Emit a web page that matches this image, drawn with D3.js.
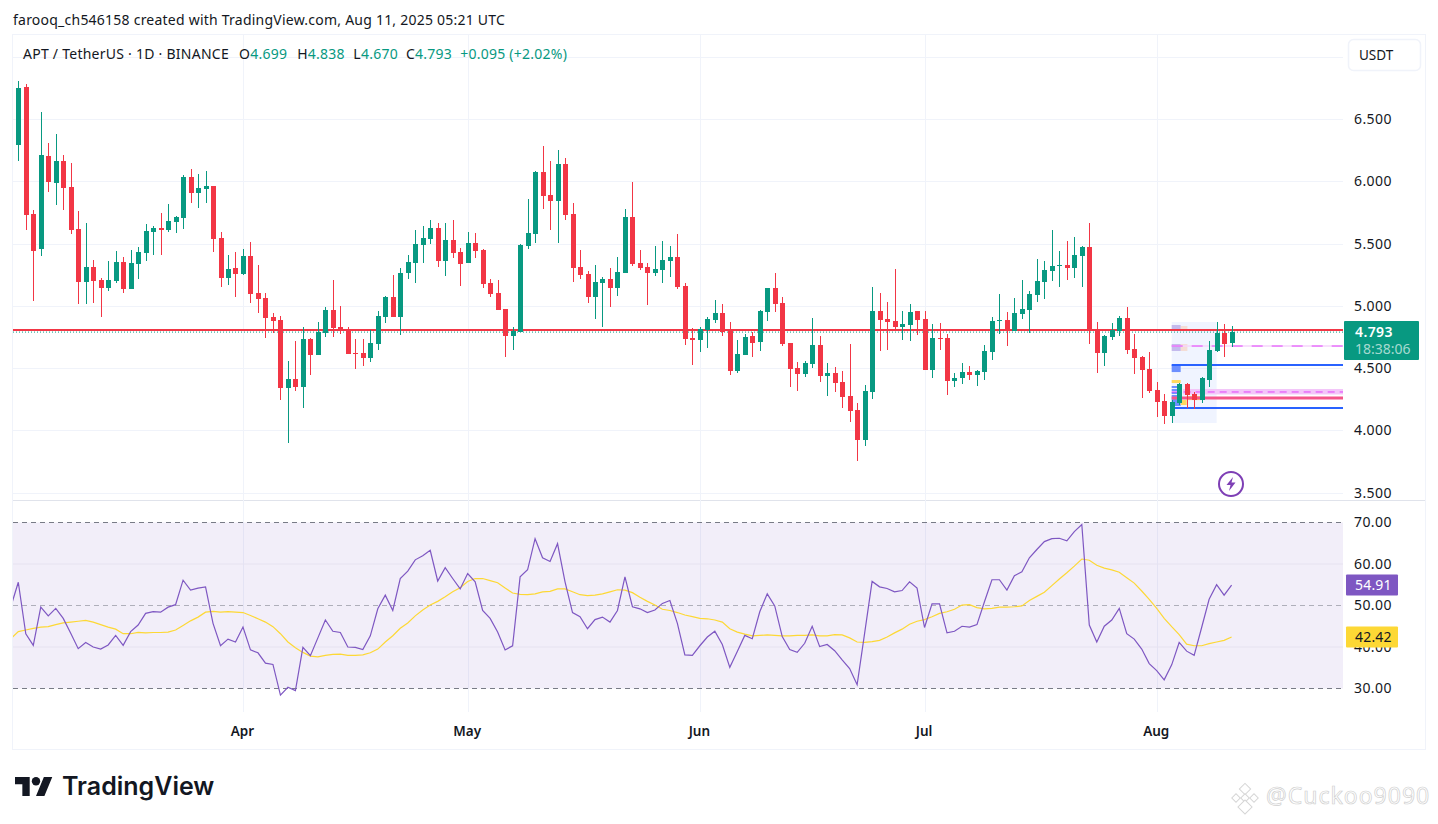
<!DOCTYPE html>
<html>
<head>
<meta charset="utf-8">
<title>APT / TetherUS</title>
<script src="https://cdn.jsdelivr.net/npm/d3@7"></script>
<style>
  html, body { margin: 0; padding: 0; background: #fff; }
  svg { display: block; }
  text { font-family: "Noto Sans", "Open Sans", sans-serif; fill: #131722; }
</style>
</head>
<body>
<div id="chart"></div>
<script>
const opens = [6.291,6.757,5.737,5.455,6.202,5.986,6.162,5.953,5.616,5.190,5.311,5.207,5.142,5.198,5.351,5.134,5.335,5.423,5.592,5.624,5.608,5.672,5.704,6.034,5.905,5.937,5.961,5.544,5.223,5.303,5.255,5.399,5.102,5.062,4.909,4.885,4.339,4.411,4.347,4.733,4.604,4.781,4.966,4.829,4.805,4.621,4.621,4.581,4.693,4.910,5.071,4.910,5.264,5.344,5.488,5.537,5.625,5.360,5.529,5.432,5.344,5.504,5.448,5.183,5.103,4.974,4.758,4.790,5.480,5.577,6.075,5.890,5.842,6.139,5.737,5.312,5.256,5.071,5.183,5.215,5.143,5.264,5.713,5.344,5.312,5.264,5.288,5.360,5.392,5.159,4.742,4.726,4.806,4.886,4.942,4.806,4.477,4.605,4.758,4.709,4.950,5.143,5.023,4.701,4.501,4.452,4.533,4.685,4.436,4.461,4.388,4.276,4.163,3.922,4.308,4.958,4.894,4.878,4.830,4.846,4.958,4.894,4.485,4.742,4.742,4.396,4.420,4.469,4.444,4.469,4.629,4.878,4.886,4.797,4.934,4.966,5.086,5.191,5.279,5.319,5.327,5.303,5.400,5.472,4.805,4.621,4.749,4.797,4.902,4.653,4.588,4.492,4.323,4.235,4.115,4.219,4.372,4.291,4.243,4.404,4.637,4.781,4.699]
const highs = [6.805,6.781,5.769,6.556,6.307,6.379,6.210,6.146,5.761,5.664,5.367,5.223,5.359,5.439,5.391,5.447,5.471,5.656,5.640,5.745,5.817,5.720,6.050,6.098,6.058,6.082,5.961,5.592,5.407,5.431,5.455,5.512,5.327,5.102,4.941,4.917,4.556,4.717,4.829,4.741,4.869,4.990,5.206,4.998,4.829,4.734,4.734,4.806,4.958,5.079,5.247,5.304,5.408,5.609,5.641,5.689,5.665,5.665,5.689,5.464,5.593,5.585,5.456,5.215,5.207,4.974,4.830,5.496,5.858,6.083,6.284,6.163,6.251,6.187,5.826,5.448,5.280,5.328,5.231,5.304,5.392,5.778,5.994,5.448,5.344,5.480,5.521,5.480,5.577,5.183,4.822,4.830,4.910,5.047,5.015,4.870,4.726,4.774,4.790,4.966,5.143,5.264,5.071,4.701,4.549,4.557,4.902,4.758,4.541,4.509,4.477,4.693,4.220,4.364,5.151,5.103,5.031,5.296,4.958,5.015,4.958,4.958,4.854,4.862,4.774,4.461,4.541,4.517,4.485,4.685,4.910,5.095,4.950,5.062,5.207,5.119,5.375,5.359,5.608,5.440,5.520,5.552,5.480,5.665,4.870,4.765,4.861,4.918,4.990,4.773,4.596,4.629,4.388,4.291,4.243,4.377,4.380,4.307,4.428,4.717,4.870,4.854,4.838]
const lows = [6.165,5.608,5.038,5.399,5.913,5.809,5.769,5.576,5.014,5.014,5.022,4.909,5.118,5.182,5.102,5.134,5.215,5.359,5.407,5.407,5.592,5.584,5.616,5.825,5.785,5.825,5.431,5.150,5.166,5.070,5.247,5.022,4.941,4.741,4.781,4.243,3.897,4.315,4.179,4.444,4.604,4.749,4.749,4.773,4.612,4.493,4.517,4.549,4.645,4.862,4.910,4.766,5.215,5.183,5.344,5.496,5.312,5.239,5.384,5.159,5.344,5.384,5.143,5.071,4.966,4.589,4.645,4.790,5.456,5.504,5.778,5.609,5.504,5.689,5.191,5.215,5.023,4.894,4.830,4.990,5.079,5.264,5.320,5.288,5.007,5.239,5.183,5.231,5.135,4.685,4.525,4.629,4.661,4.862,4.758,4.444,4.461,4.605,4.589,4.637,4.878,4.950,4.677,4.348,4.316,4.428,4.501,4.388,4.276,4.308,4.179,4.067,3.754,3.874,4.252,4.637,4.645,4.814,4.726,4.718,4.766,4.485,4.420,4.645,4.284,4.348,4.372,4.404,4.356,4.404,4.565,4.774,4.677,4.797,4.894,4.781,5.030,5.054,5.199,5.151,5.207,5.223,5.151,4.693,4.460,4.516,4.725,4.757,4.613,4.452,4.259,4.299,4.107,4.050,4.058,4.203,4.179,4.171,4.219,4.347,4.629,4.588,4.670]
const closes = [6.748,5.729,5.439,6.210,5.994,6.162,5.945,5.608,5.190,5.311,5.198,5.142,5.207,5.351,5.134,5.343,5.431,5.600,5.624,5.608,5.680,5.712,6.034,5.905,5.945,5.961,5.536,5.223,5.295,5.255,5.399,5.094,5.054,4.901,4.877,4.339,4.411,4.347,4.733,4.604,4.789,4.966,4.821,4.805,4.612,4.613,4.581,4.701,4.918,5.071,4.910,5.264,5.352,5.496,5.545,5.625,5.360,5.529,5.424,5.336,5.504,5.440,5.175,5.095,4.966,4.758,4.798,5.488,5.585,6.075,5.882,5.842,6.139,5.729,5.304,5.247,5.071,5.191,5.215,5.143,5.272,5.713,5.336,5.304,5.264,5.296,5.368,5.392,5.151,4.734,4.726,4.814,4.894,4.942,4.790,4.477,4.613,4.750,4.701,4.958,5.143,5.015,4.693,4.493,4.452,4.541,4.685,4.436,4.461,4.380,4.268,4.155,3.922,4.316,4.958,4.886,4.870,4.830,4.854,4.950,4.886,4.485,4.742,4.734,4.396,4.420,4.469,4.444,4.477,4.637,4.878,4.886,4.798,4.942,4.974,5.094,5.199,5.287,5.319,5.327,5.303,5.408,5.472,4.805,4.621,4.757,4.805,4.902,4.645,4.580,4.484,4.315,4.227,4.115,4.227,4.372,4.283,4.243,4.420,4.645,4.781,4.693,4.793]

// rsi starts one day earlier than the candles (clipped by the pane edge)
const rsiValues = [49.7,55.6,43.2,40.4,49.6,47.5,49.3,46.9,43.3,39.6,41.1,40.0,39.5,40.5,42.8,40.4,43.7,45.3,48.1,48.5,48.4,49.6,50.2,56.1,53.7,54.2,54.5,45.7,40.3,41.9,41.2,44.8,39.3,38.6,36.1,35.8,28.4,30.3,29.5,39.9,37.9,42.2,46.5,43.8,43.5,40.0,39.9,39.4,42.7,49.2,52.5,48.8,56.5,58.3,61.0,62.0,63.3,55.9,59.1,56.5,54.0,57.7,55.7,48.8,46.9,43.6,39.3,40.3,56.9,58.6,66.1,61.5,60.6,64.9,55.7,48.3,47.3,44.4,46.6,47.2,46.0,48.8,56.9,49.7,49.2,48.3,48.9,50.5,51.2,45.7,38.1,38.0,40.3,42.4,43.8,40.6,35.1,38.9,42.8,42.0,48.5,52.8,49.9,42.5,39.4,38.7,40.9,45.0,40.1,40.6,39.1,36.9,34.8,30.9,43.3,55.8,54.5,54.1,53.3,53.6,55.7,54.2,44.7,50.4,50.4,43.4,43.8,45.0,44.8,45.4,50.9,56.2,56.2,53.7,57.2,58.1,61.5,63.5,65.4,66.1,66.2,65.6,67.8,69.5,45.3,41.2,45.0,46.5,49.3,43.2,41.9,39.5,36.0,34.3,32.1,35.7,41.1,39.0,38.0,44.7,51.5,55.0,52.5,54.91]
const rsiAverage = [42.0,43.7,44.1,44.5,44.8,44.9,45.4,45.8,46.0,46.2,46.4,46.0,45.4,44.8,44.3,43.2,43.2,43.5,43.4,43.5,43.5,43.6,44.1,45.2,46.3,47.2,48.4,48.6,48.4,48.5,48.4,48.3,47.6,46.8,46.0,44.9,43.2,41.2,39.8,38.7,37.8,37.6,38.0,38.2,38.3,38.0,38.0,38.1,38.6,39.5,41.2,42.7,44.5,45.8,47.5,48.9,50.1,51.0,52.1,53.3,54.3,55.8,56.5,56.5,56.0,55.5,54.2,53.0,52.7,52.6,52.8,53.3,53.4,54.0,54.0,53.3,52.6,52.4,52.5,52.8,53.3,53.8,53.7,53.1,52.0,51.0,50.1,49.1,48.8,48.3,47.7,47.3,46.9,46.8,46.5,46.0,44.4,43.6,43.1,42.7,42.8,42.9,42.8,42.7,42.7,42.8,42.8,42.9,42.7,42.7,43.0,42.9,42.2,41.2,41.1,41.3,41.6,42.4,43.4,44.3,45.5,46.2,46.6,47.3,48.1,48.5,49.1,50.1,50.2,49.5,49.2,49.3,49.6,49.6,49.7,49.9,51.2,52.2,53.2,54.8,56.4,57.9,59.5,61.2,60.9,59.7,59.0,58.6,58.0,56.7,55.4,53.5,51.5,49.3,46.9,44.9,43.0,40.7,40.3,40.3,40.8,41.2,41.6,42.42]

const priceTicks = [6.5, 6, 5.5, 5, 4.5, 4, 3.5]
const priceGrid = [7, 6.5, 6, 5.5, 5, 4.5, 4, 3.5]
const rsiTicks = [70, 60, 50, 40, 30]
const monthStarts = ["2025-04-01", "2025-05-01", "2025-06-01", "2025-07-01", "2025-08-01"].map(d => new Date(d))

const lastPrice = 4.793
const alertLevel = 4.805

// drawings on the price pane, bar numbers count from the first candle
const zoneFrom = [154, 154, 155.2, 154, 155.2, 154, 154, 154, 154, 154, 154, 155.2, 156]
const zoneTo   = [160, 155.2, 156.1, 155.2, 156.1, 155.2, 155.2, 154.8, 154.8, 154.8, 155.2, 156, 158]
const zoneHigh = [4.870, 4.846, 4.838, 4.693, 4.693, 4.525, 4.404, 4.356, 4.332, 4.308, 4.284, 4.243, 4.275]
const zoneLow  = [4.059, 4.798, 4.798, 4.637, 4.637, 4.468, 4.380, 4.340, 4.316, 4.292, 4.195, 4.203, 4.243]
const zoneKind = ["box", "purple", "peach", "purple", "peach", "blue", "yellow", "blue", "blue", "blue", "blue", "yellow", "yellow"]

const bandTop = 4.332, bandBottom = 4.288, bandFrom = 155.5
const levelFrom = 154
const levelPrices = [4.677, 4.525, 4.308, 4.260, 4.179]
const levelKind = ["magenta", "blue", "dash", "pink", "blue"]

const width = 1438, height = 824
const paneLeft = 13, paneRight = 1343
const up = "#089981", down = "#F23645", gridColor = "#F0F3FA"
const zoneColor = { box: "rgba(41,98,255,0.07)", purple: "rgba(130,100,210,0.4)", peach: "rgba(255,170,120,0.3)", blue: "#6C8FFF", yellow: "#FFD95E" }

const start = new Date("2025-03-02")
const dates = d3.utcDay.range(start, new Date("2025-08-12"))
const rsiDates = d3.utcDay.range(new Date("2025-03-01"), new Date("2025-08-12"))

const x = d3.scaleUtc().domain([start, dates[dates.length - 1]]).range([18.3, 1231.6])
const barX = i => x(start) + i * (x(dates[1]) - x(dates[0]))
const y = d3.scaleLinear().domain([3.5, 6.5]).range([492.6, 119])
const yRsi = d3.scaleLinear().domain([30, 70]).range([688.5, 522.5])

const svg = d3.select("#chart").append("svg").attr("width", width).attr("height", height)

const defs = svg.append("defs")
defs.append("clipPath").attr("id", "clip-price").append("rect")
  .attr("x", paneLeft).attr("y", 35).attr("width", paneRight - paneLeft).attr("height", 465)
defs.append("clipPath").attr("id", "clip-rsi").append("rect")
  .attr("x", paneLeft).attr("y", 501).attr("width", paneRight - paneLeft).attr("height", 211)

// frame
svg.append("rect").attr("x", 12.5).attr("y", 34.5).attr("width", 1413).attr("height", 715)
  .attr("fill", "none").attr("stroke", "#F0F3FA")
svg.append("line").attr("x1", 13).attr("x2", 1425).attr("y1", 500.5).attr("y2", 500.5).attr("stroke", "#E0E3EB")

svg.append("text").attr("x", 13).attr("y", 25).attr("font-size", 14).style("letter-spacing", "0.23px")
  .text("farooq_ch546158 created with TradingView.com, Aug 11, 2025 05:21 UTC")

// grid
const grid = svg.append("g").attr("shape-rendering", "crispEdges")
grid.selectAll(".hgrid").data(priceGrid).join("line").attr("class", "hgrid")
  .attr("x1", paneLeft).attr("x2", paneRight)
  .attr("y1", d => Math.round(y(d)) + 0.5).attr("y2", d => Math.round(y(d)) + 0.5)
  .attr("stroke", gridColor)
grid.selectAll(".vgrid").data(monthStarts).join("line").attr("class", "vgrid")
  .attr("x1", d => Math.round(x(d)) + 0.5).attr("x2", d => Math.round(x(d)) + 0.5)
  .attr("y1", 35).attr("y2", 712)
  .attr("stroke", gridColor)

// price pane drawings
const price = svg.append("g").attr("clip-path", "url(#clip-price)")
const zones = zoneKind.map((k, i) => ({ k, from: zoneFrom[i], to: zoneTo[i], top: zoneHigh[i], bottom: zoneLow[i] }))
price.selectAll(".zone").data(zones).join("rect").attr("class", "zone")
  .attr("x", d => barX(d.from)).attr("width", d => barX(d.to) - barX(d.from))
  .attr("y", d => y(d.top)).attr("height", d => y(d.bottom) - y(d.top))
  .attr("fill", d => zoneColor[d.k])
price.append("rect").attr("x", barX(bandFrom)).attr("width", paneRight - barX(bandFrom))
  .attr("y", y(bandTop)).attr("height", y(bandBottom) - y(bandTop)).attr("fill", "#F3C6F9")

const levels = levelPrices.map((p, i) => ({ p, k: levelKind[i] }))
const levelStyle = {
  magenta: { stroke: "#E040FB", width: 1, dash: "11,9" },
  blue: { stroke: "#2962FF", width: 2, dash: null },
  dash: { stroke: "#E040FB", width: 1, dash: "7,5" },
  pink: { stroke: "#F4558A", width: 3, dash: null }
}
price.append("line").attr("x1", barX(levelFrom)).attr("x2", paneRight)
  .attr("y1", y(levelPrices[0])).attr("y2", y(levelPrices[0]))
  .attr("stroke", "#F6D6FB").attr("stroke-width", 1.5)
price.selectAll(".level").data(levels).join("line").attr("class", "level")
  .attr("x1", barX(levelFrom)).attr("x2", paneRight)
  .attr("y1", d => y(d.p)).attr("y2", d => y(d.p))
  .attr("stroke", d => levelStyle[d.k].stroke)
  .attr("stroke-width", d => levelStyle[d.k].width)
  .attr("stroke-dasharray", d => levelStyle[d.k].dash)

price.append("line").attr("x1", paneLeft).attr("x2", paneRight)
  .attr("y1", y(alertLevel)).attr("y2", y(alertLevel))
  .attr("stroke", down).attr("stroke-width", 2)
price.append("line").attr("x1", paneLeft).attr("x2", paneRight)
  .attr("y1", y(lastPrice) + 0.5).attr("y2", y(lastPrice) + 0.5)
  .attr("stroke", up).attr("stroke-dasharray", "1,2")

// candles
const candles = dates.map((d, i) => ({ d, o: opens[i], h: highs[i], l: lows[i], c: closes[i] }))
const candle = price.append("g").attr("shape-rendering", "crispEdges").selectAll("g").data(candles).join("g")
  .attr("fill", d => d.c >= d.o ? up : down)
candle.append("rect")
  .attr("x", d => Math.round(x(d.d))).attr("width", 1)
  .attr("y", d => y(d.h)).attr("height", d => y(d.l) - y(d.h))
candle.append("rect")
  .attr("x", d => Math.round(x(d.d)) - 2).attr("width", 5)
  .attr("y", d => y(Math.max(d.o, d.c)))
  .attr("height", d => Math.max(1, y(Math.min(d.o, d.c)) - y(Math.max(d.o, d.c))))

// rsi pane
const rsiPane = svg.append("g").attr("clip-path", "url(#clip-rsi)")
rsiPane.append("rect").attr("x", paneLeft).attr("width", paneRight - paneLeft)
  .attr("y", yRsi(70)).attr("height", yRsi(30) - yRsi(70)).attr("fill", "#7E57C2").attr("fill-opacity", 0.1)
rsiPane.selectAll(".rgrid").data([60, 40]).join("line").attr("class", "rgrid")
  .attr("x1", paneLeft).attr("x2", paneRight).attr("y1", d => yRsi(d)).attr("y2", d => yRsi(d))
  .attr("stroke", "#E6E2F0")
rsiPane.selectAll(".rband").data([70, 50, 30]).join("line").attr("class", "rband")
  .attr("x1", paneLeft).attr("x2", paneRight).attr("y1", d => yRsi(d)).attr("y2", d => yRsi(d))
  .attr("stroke", "#787B86").attr("stroke-opacity", d => d === 50 ? 0.55 : 1)
  .attr("stroke-dasharray", "5,4")

const rsiLine = d3.line().x((d, i) => x(rsiDates[i])).y(d => yRsi(d))
rsiPane.append("path").datum(rsiAverage).attr("d", rsiLine)
  .attr("fill", "none").attr("stroke", "#FDD835").attr("stroke-width", 1.2)
rsiPane.append("path").datum(rsiValues).attr("d", rsiLine)
  .attr("fill", "none").attr("stroke", "#7E57C2").attr("stroke-width", 1.2)

// axes
const priceAxis = svg.append("g").attr("transform", "translate(1354,0)")
  .call(d3.axisRight(y).tickValues(priceTicks).tickSize(0).tickPadding(0).tickFormat(d3.format(".3f")))
const rsiAxis = svg.append("g").attr("transform", "translate(1354,0)")
  .call(d3.axisRight(yRsi).tickValues(rsiTicks).tickSize(0).tickPadding(0).tickFormat(d3.format(".2f")))
const timeAxis = svg.append("g").attr("transform", "translate(-1,726)")
  .call(d3.axisBottom(x).tickValues(monthStarts).tickSize(0).tickPadding(0).tickFormat(d3.utcFormat("%b")))
for (const a of [priceAxis, rsiAxis, timeAxis]) {
  a.select(".domain").remove()
  a.selectAll("text").attr("font-size", 14).attr("font-family", null).style("fill", "#131722")
}
priceAxis.selectAll("text").style("letter-spacing", "0.4px")
rsiAxis.selectAll("text").style("letter-spacing", "0.4px")
timeAxis.selectAll("text").attr("font-size", 13.5).attr("font-weight", 600)

// legend
const legend = svg.append("text").attr("x", 23).attr("y", 59).attr("font-size", 14).style("letter-spacing", "0.25px")
legend.append("tspan").text("APT / TetherUS · 1D · BINANCE")
const ohlc = [["O", opens], ["H", highs], ["L", lows], ["C", closes]]
const ohlcGap = [10, 10, 8.5, 8]
ohlc.forEach(([label, values], i) => {
  legend.append("tspan").attr("dx", ohlcGap[i]).text(label)
  legend.append("tspan").style("fill", up).text(d3.format(".3f")(values[values.length - 1]))
})
legend.append("tspan").attr("dx", 8).style("fill", up).text("+0.095 (+2.02%)")

// USDT button
svg.append("rect").attr("x", 1348.5).attr("y", 39.5).attr("width", 72).attr("height", 31).attr("rx", 5)
  .attr("fill", "#fff").attr("stroke", "#F0F3FA").attr("stroke-width", 1.5)
svg.append("text").attr("x", 1359).attr("y", 60).attr("font-size", 13.5).text("USDT")

// price tags
svg.append("rect").attr("x", 1344).attr("y", 321).attr("width", 75).attr("height", 39).attr("rx", 1).attr("fill", up)
svg.append("text").attr("x", 1355).attr("y", 337).attr("font-size", 14).attr("font-weight", 600)
  .style("fill", "#fff").style("letter-spacing", "0.4px").text(d3.format(".3f")(lastPrice))
svg.append("text").attr("x", 1355).attr("y", 354).attr("font-size", 14)
  .style("fill", "#fff").style("fill-opacity", 0.65).text("18:38:06")

const tags = [
  { v: rsiValues[rsiValues.length - 1], bg: "#7E57C2", fg: "#fff" },
  { v: rsiAverage[rsiAverage.length - 1], bg: "#FDD835", fg: "#131722" }
]
tags.forEach(t => {
  const ty = yRsi(t.v)
  svg.append("rect").attr("x", 1346).attr("y", ty - 10.5).attr("width", 52).attr("height", 21).attr("rx", 1).attr("fill", t.bg)
  svg.append("text").attr("x", 1355).attr("y", ty + 5).attr("font-size", 14).style("fill", t.fg)
    .style("letter-spacing", "0.2px").text(d3.format(".2f")(t.v))
})

// lightning badge
const bolt = svg.append("g").attr("transform", "translate(1231,484)")
bolt.append("circle").attr("r", 12).attr("fill", "#fff").attr("stroke", "#7E3FB5").attr("stroke-width", 2)
bolt.append("path").attr("d", "M2,-7 L-4.5,1 L-0.5,1 L-2,7 L4.5,-1.5 L0.5,-1.5 Z").attr("fill", "#7E3FB5")

// logo
const logo = svg.append("g").attr("transform", "translate(15,772.8) scale(1.05)").attr("fill", "#131722")
logo.append("path").attr("d", "M14 22H7V11H0V4h14v18zM28 22h-8l7.5-18h8L28 22z")
logo.append("circle").attr("cx", 20).attr("cy", 8).attr("r", 4)
svg.append("text").attr("x", 62).attr("y", 795).style("font-family", "Inter")
  .attr("font-size", 25).attr("font-weight", 600).text("TradingView")

// watermark
const mark = svg.append("g").attr("transform", "translate(1245,798)")
  .attr("fill", "#fff").attr("stroke", "#D6D6D6").attr("stroke-width", 1)
const diamonds = [[0, -9, 4], [-9, 0, 3], [9, 0, 3], [0, 0, 3], [0, 9, 5]]
mark.selectAll("rect").data(diamonds).join("rect")
  .attr("x", d => -d[2]).attr("y", d => -d[2]).attr("width", d => d[2] * 2).attr("height", d => d[2] * 2)
  .attr("transform", d => `translate(${d[0]},${d[1]}) rotate(45)`)
svg.append("text").attr("x", 1266).attr("y", 804).attr("font-size", 23)
  .style("fill", "#fff").style("stroke", "#CFCFCF").style("stroke-width", 0.7).style("letter-spacing", "1px")
  .text("@Cuckoo9090")
</script>
</body>
</html>
